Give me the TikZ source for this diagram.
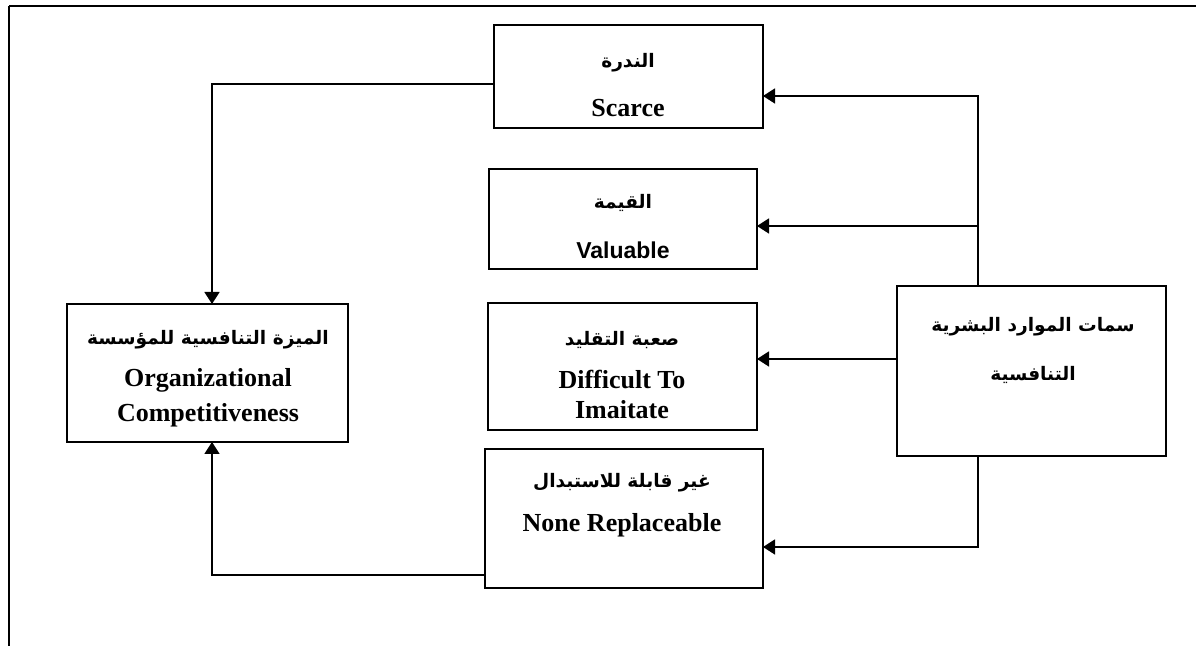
\documentclass[tikz,border=0pt]{standalone}
\usepackage{fontspec}
\usepackage{tikz}
\usetikzlibrary{arrows.meta,positioning,calc}
\setmainfont{Liberation Serif}
\newfontfamily\arialfont{Liberation Sans}
\newfontfamily\arabicfont[Script=Arabic]{DejaVu Sans}
\TeXXeTstate=1
\definecolor{framedark}{HTML}{000000}

\tikzset{
    box/.style={draw=framedark, line width=0.8pt, inner sep=0pt, outer sep=0pt},
    artext/.style={font=\arabicfont\bfseries\fontsize{9.3}{11}\selectfont, inner sep=0pt},
    entext/.style={font=\bfseries\fontsize{13}{15}\selectfont, inner sep=0pt},
    arr/.style={draw=framedark, line width=0.8pt, -{Triangle[length=6pt,width=7.5pt]}}
}

\begin{document}
\begin{tikzpicture}[x=0.5pt, y=-0.5pt]
        \useasboundingbox (0,0) rectangle (1196,646);
        % outer frame
        \draw[line width=1pt] (9,6) -- (1196,6);
        \draw[line width=0.6pt] (9,6) -- (9,646);

        % attribute boxes
        \node[box, minimum width=134.5pt, minimum height=51.5pt] (scarce) at (628.5,76.5) {};
        \node[box, minimum width=134pt, minimum height=50pt] (valuable) at (623,219) {};
        \node[box, minimum width=134.5pt, minimum height=63.5pt] (difficult) at (622.5,366.5) {};
        \node[box, minimum width=139pt, minimum height=69.5pt] (nonrep) at (624,518.5) {};
        \node[box, minimum width=134.5pt, minimum height=85pt] (traits) at (1031.5,371) {};
        \node[box, minimum width=140.5pt, minimum height=69pt] (orgcomp) at (207.5,373) {};

        % texts
        \node[artext] (scarce-ar) at (628,63) {\beginR الندرة\endR};
        \node[entext] (scarce-en) at (628,108) {Scarce};
        \node[artext] (valuable-ar) at (623,203) {\beginR القيمة\endR};
        \node[entext, font=\arialfont\bfseries\fontsize{11.5}{13}\selectfont] (valuable-en) at (623,250) {Valuable};
        \node[artext] (difficult-ar) at (622,340) {\beginR صعبة التقليد\endR};
        \node[entext] (difficult-en) at (622,380) {Difficult To};
        \node[entext] (difficult-en2) at (622,410) {Imaitate};
        \node[artext] (nonrep-ar) at (622,483) {\beginR غير قابلة للاستبدال\endR};
        \node[entext] (nonrep-en) at (622,525) {None Replaceable};
        \node[artext] (traits-ar) at (1033,327) {\beginR سمات الموارد البشرية\endR};
        \node[artext] (traits-ar2) at (1033,375) {\beginR التنافسية\endR};
        \node[artext] (orgcomp-ar) at (208,340) {\beginR الميزة التنافسية للمؤسسة\endR};
        \node[entext] (orgcomp-en) at (208,380) {Organizational};
        \node[entext] (orgcomp-en2) at (208,415) {Competitiveness};

        % connectors
        \coordinate (rtop) at (978,96);
        \coordinate (rval) at (978,226);
        \coordinate (rdif) at (978,359);
        \coordinate (rbot) at (978,547);
        \coordinate (ltop) at (212,84);
        \coordinate (lbot) at (212,575);

        \draw[arr] (traits.north -| rtop) -- (rtop) -- (scarce.east |- rtop);
        \draw[arr] (rval) -- (valuable.east |- rval);
        \draw[arr] (traits.west |- rdif) -- (difficult.east |- rdif);
        \draw[arr] (traits.south -| rbot) -- (rbot) -- (nonrep.east |- rbot);
        \draw[arr] (scarce.west |- ltop) -- (ltop) -- (orgcomp.north -| ltop);
        \draw[arr] (nonrep.west |- lbot) -- (lbot) -- (orgcomp.south -| lbot);

    \end{tikzpicture}
\end{document}
